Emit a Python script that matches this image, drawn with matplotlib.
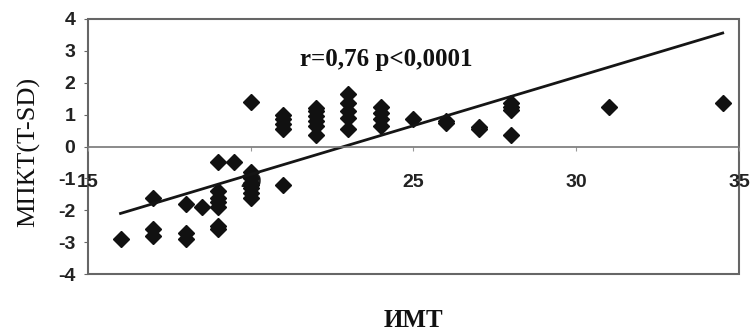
import numpy as np
from matplotlib import pyplot as plt
from matplotlib.patches import Rectangle

plt.rcParams["axes.unicode_minus"] = False

# BMI (ИМТ) and BMD T-score (МПКТ) readings
imt = [16, 17, 17, 17, 18, 18, 18, 18.5, 19, 19.5, 19, 19, 19, 19, 19, 19,
       20, 20, 20, 20, 20, 20, 20, 21, 20,
       21, 21, 21, 21,
       22, 22, 22, 22, 22, 22,
       23, 23, 23, 23, 23,
       24, 24, 24, 24,
       25, 26, 26, 27, 27, 28, 28, 28, 28, 31, 34.5]
mpkt = [-2.9, -1.6, -2.6, -2.8, -1.8, -2.7, -2.9, -1.9, -0.5, -0.5, -1.4, -1.6, -1.75, -1.9, -2.5, -2.6,
        -0.8, -1.0, -1.15, -1.2, -1.3, -1.45, -1.6, -1.2, 1.4,
        1.0, 0.85, 0.7, 0.55,
        1.2, 1.1, 0.95, 0.8, 0.65, 0.35,
        1.65, 1.35, 1.1, 0.9, 0.55,
        1.25, 1.05, 0.85, 0.65,
        0.85, 0.8, 0.75, 0.6, 0.55, 1.35, 1.25, 1.15, 0.35, 1.25, 1.35]
# trend line ends
trend_x = [16, 34.5]
trend_y = [-2.1, 3.56]
x_ticks = [15, 20, 25, 30, 35]
y_ticks = [-4, -3, -2, -1, 0, 1, 2, 3, 4]
stat_text = "r=0,76 p<0,0001"

fig = plt.figure(figsize=(7.5, 3.31), dpi=100)
ax = fig.add_axes([0.1173, 0.1722, 0.868, 0.7704])

ax.plot(imt, mpkt, linestyle="none", marker="D", markersize=8.5, color="#111111")
ax.plot(trend_x, trend_y, color="#151515", linewidth=2)

ax.set_xlim(15, 35)
ax.set_ylim(-4, 4)
ax.set_xticks(x_ticks)
ax.set_yticks(y_ticks)

for s in ["top", "right", "left"]:
    ax.spines[s].set_visible(False)
ax.spines["bottom"].set_position(("data", 0))
ax.spines["bottom"].set_color("#777777")
ax.spines["bottom"].set_linewidth(1.2)
ax.add_patch(Rectangle((0, 0), 1, 1, transform=ax.transAxes, fill=False,
                       edgecolor="#666666", linewidth=1.5, clip_on=False))

ax.tick_params(axis="x", direction="out", length=3, color="#999999", pad=17,
               labelsize=14)
ax.tick_params(axis="y", direction="out", length=3, color="#666666", pad=6,
               labelsize=14)
for lab in ax.get_xticklabels() + ax.get_yticklabels():
    lab.set_fontfamily("Liberation Sans")
    lab.set_fontweight("bold")
    lab.set_color("#222222")

ax.text(0.325, 0.84, stat_text, transform=ax.transAxes, fontsize=18,
        fontweight="bold", family="Liberation Serif", color="#111111",
        ha="left", va="center")

fig.text(0.551, 0.033, "ИМТ", fontsize=18, fontweight="bold",
         family="Liberation Serif", ha="center", va="center", color="#111111")
fig.text(0.038, 0.54, "МПКТ(T-SD)", fontsize=19, rotation=90,
         family="Liberation Serif", ha="center", va="center", color="#111111")

fig.savefig("out.png", dpi=100)
